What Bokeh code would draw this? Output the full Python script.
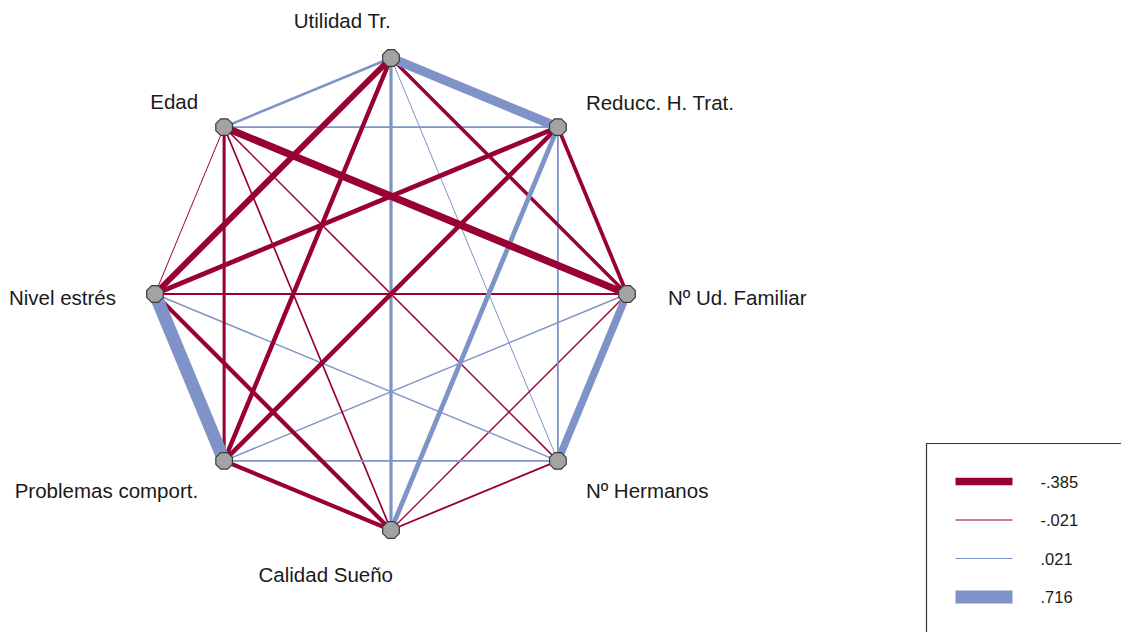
import math
from bokeh.plotting import figure
from bokeh.models import Range1d, ColumnDataSource
from bokeh.core.properties import value
from bokeh.embed import file_html
from bokeh.resources import INLINE

# Variables, placed clockwise around the octagon starting at the top
nodes = ["Utilidad Tr.", "Reducc. H. Trat.", "Nº Ud. Familiar", "Nº Hermanos",
         "Calidad Sueño", "Problemas comport.", "Nivel estrés", "Edad"]

# Correlation network edges: (from, to, r)
edge_from = ["Utilidad Tr.", "Utilidad Tr.", "Utilidad Tr.", "Utilidad Tr.", "Utilidad Tr.",
             "Utilidad Tr.", "Utilidad Tr.",
             "Edad", "Edad", "Edad", "Edad", "Edad", "Edad",
             "Reducc. H. Trat.", "Reducc. H. Trat.", "Reducc. H. Trat.", "Reducc. H. Trat.",
             "Reducc. H. Trat.",
             "Nº Ud. Familiar", "Nº Ud. Familiar", "Nº Ud. Familiar", "Nº Ud. Familiar",
             "Nº Hermanos", "Nº Hermanos", "Nº Hermanos",
             "Calidad Sueño", "Calidad Sueño",
             "Problemas comport."]
edge_to = ["Reducc. H. Trat.", "Edad", "Nivel estrés", "Problemas comport.", "Calidad Sueño",
           "Nº Hermanos", "Nº Ud. Familiar",
           "Reducc. H. Trat.", "Nº Ud. Familiar", "Nivel estrés", "Problemas comport.",
           "Calidad Sueño", "Nº Hermanos",
           "Nivel estrés", "Problemas comport.", "Calidad Sueño", "Nº Hermanos",
           "Nº Ud. Familiar",
           "Nivel estrés", "Problemas comport.", "Nº Hermanos", "Calidad Sueño",
           "Nivel estrés", "Problemas comport.", "Calidad Sueño",
           "Problemas comport.", "Nivel estrés",
           "Nivel estrés"]
edge_r = [0.50, 0.11, -0.31, -0.22, 0.15,
          0.021, -0.16,
          0.07, -0.385, -0.021, -0.14,
          -0.06, -0.05,
          -0.24, -0.22, 0.24, 0.07,
          -0.18,
          -0.07, 0.05, 0.40, -0.04,
          0.05, 0.07, -0.07,
          -0.20, -0.20,
          0.716]

legend_values = [-0.385, -0.021, 0.021, 0.716]

NEG = "#990033"
POS = "#7F93C8"
W_MIN, W_MAX = 1.0, 13.0
R_MIN, R_MAX = 0.021, 0.716


def width_of(r):
    return W_MIN + (abs(r) - R_MIN) / (R_MAX - R_MIN) * (W_MAX - W_MIN)


def color_of(r):
    return NEG if r < 0 else POS


def fmt(r):
    s = f"{abs(r):.3f}".lstrip("0")
    return ("-" if r < 0 else "") + s


W, H = 1121, 632
p = figure(width=W, height=H, output_backend="svg", toolbar_location=None,
           x_range=Range1d(0, W), y_range=Range1d(0, H), min_border=0)
p.axis.visible = False
p.grid.visible = False
p.outline_line_color = None
p.background_fill_color = "white"
p.border_fill_color = "white"

# Octagon layout
cx, cy, rad = 390.5, H - 293.5, 236.0
pos = {}
for i, name in enumerate(nodes):
    a = math.radians(i * 45.0)
    pos[name] = (cx + rad * math.sin(a), cy + rad * math.cos(a))

# Edges, thinnest first so heavier ties sit on top
order = sorted(range(len(edge_r)), key=lambda k: abs(edge_r[k]))
esrc = ColumnDataSource(dict(
    x0=[pos[edge_from[k]][0] for k in order],
    y0=[pos[edge_from[k]][1] for k in order],
    x1=[pos[edge_to[k]][0] for k in order],
    y1=[pos[edge_to[k]][1] for k in order],
    c=[color_of(edge_r[k]) for k in order],
    w=[width_of(edge_r[k]) for k in order],
))
p.segment("x0", "y0", "x1", "y1", source=esrc, line_color="c", line_width="w",
          line_cap="butt")

# Octagonal node markers
nr = 9.0
xs, ys = [], []
for name in nodes:
    x, y = pos[name]
    xs.append([x + nr * math.cos(math.radians(22.5 + 45 * j)) for j in range(8)])
    ys.append([y + nr * math.sin(math.radians(22.5 + 45 * j)) for j in range(8)])
p.patches(xs, ys, fill_color="#A3A3A3", line_color="#3A3A3A", line_width=1.2)

# Node labels
lab_align = ["right", "left", "left", "left", "right", "right", "right", "right"]
lab_dx = [0, 28, 41, 28, 2, -26, -39, -26]
lab_dy = [-38, -25, 3, 30, 44, 30, 3, -26]
lsrc = ColumnDataSource(dict(
    x=[pos[n][0] for n in nodes], y=[pos[n][1] for n in nodes], t=nodes,
    a=lab_align, dx=lab_dx, dy=lab_dy,
))
p.text("x", "y", text="t", source=lsrc, text_align="a", text_baseline="middle",
       x_offset="dx", y_offset="dy", text_font=value("Liberation Sans"),
       text_font_size="20.5px", text_color="#1A1A1A")

# Legend box with sample widths
p.quad(left=[926], right=[W + 10], top=[H - 443], bottom=[-10],
       fill_color=None, line_color="#333333", line_width=1.2)
ly = [H - (481 + 38.5 * i) for i in range(len(legend_values))]
p.segment(x0=[955] * 4, y0=ly, x1=[1012] * 4, y1=ly,
          line_color=[color_of(v) for v in legend_values],
          line_width=[width_of(v) for v in legend_values], line_cap="butt")
p.text(x=[1040] * 4, y=ly, text=[fmt(v) for v in legend_values],
       text_align="left", text_baseline="middle", text_font=value("Liberation Sans"),
       text_font_size="16.5px", text_color="#1A1A1A")

open("out.html", "w").write(file_html(p, INLINE))
